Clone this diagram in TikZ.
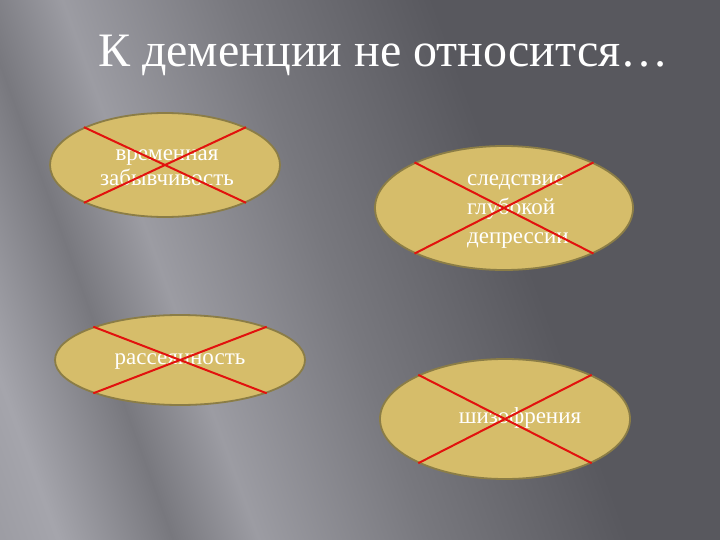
\documentclass[tikz,border=0pt]{standalone}
\usepackage{fontspec}
\setmainfont{Liberation Serif}
\usepackage{xcolor}
\usetikzlibrary{shapes.geometric,positioning}

\definecolor{slidedark}{RGB}{88,88,94}
\definecolor{slidemid}{RGB}{120,120,126}
\definecolor{slidelight}{RGB}{165,165,172}
\definecolor{ovalfill}{RGB}{214,189,106}
\definecolor{ovalline}{RGB}{139,125,70}
\definecolor{crossred}{RGB}{226,18,14}

\pgfdeclarehorizontalshading{slidebg}{100bp}{color(0bp)=(slidemid); color(22bp)=(slidelight); color(30bp)=(slidemid); color(36bp)=(slidelight!80!slidemid); color(48bp)=(slidemid); color(62bp)=(slidedark); color(100bp)=(slidedark)}

\tikzset{
  oval/.style={ellipse, draw=ovalline, line width=1.8pt, fill=ovalfill, inner sep=0pt},
  ovaltext/.style={text=white, font=\fontsize{23}{29}\selectfont, align=center, inner sep=0pt},
  crossline/.style={draw=crossred, line width=2pt},
}

\begin{document}
\begin{tikzpicture}[x=1pt,y=-1pt]
                        % Slide background
                        \shade[shading=slidebg, shading angle=20] (0,0) rectangle (720,540);%
                        \useasboundingbox (0,0) rectangle (720,540);%

                        % Title
                        \node[anchor=base west, text=white, font=\fontsize{48}{52}\selectfont, inner sep=0pt] (title) at (98,67) {К деменции не относится…};%

                        % Oval 1: временная забывчивость
                        \node[oval, minimum width=230pt, minimum height=104pt] (forget) at (165,165) {};%
                        \node[ovaltext, font=\fontsize{23}{25}\selectfont] (forgettext) at (167,168) {временная\\забывчивость};%
                        \draw[crossline] (forget.155) -- (forget.-25);%
                        \draw[crossline] (forget.25) -- (forget.205);%

                        % Oval 2: следствие глубокой депрессии
                        \node[oval, minimum width=258pt, minimum height=124pt] (depress) at (504,208) {};%
                        \node[ovaltext, align=left, anchor=west] (depresstext) at (467,212) {следствие\\глубокой\\депрессии};%
                        \draw[crossline] (depress.153) -- (depress.-27);%
                        \draw[crossline] (depress.27) -- (depress.207);%

                        % Oval 3: рассеянность
                        \node[oval, minimum width=250pt, minimum height=90pt] (scatter) at (180,360) {};%
                        \node[ovaltext] (scattertext) at (180,362) {рассеянность};%
                        \draw[crossline] (scatter.159) -- (scatter.-21);%
                        \draw[crossline] (scatter.21) -- (scatter.201);%

                        % Oval 4: шизофрения
                        \node[oval, minimum width=250pt, minimum height=120pt] (schizo) at (505,419) {};%
                        \node[ovaltext] (schizotext) at (520,418) {шизофрения};%
                        \draw[crossline] (schizo.153) -- (schizo.-27);%
                        \draw[crossline] (schizo.27) -- (schizo.207);%
                    \end{tikzpicture}
\end{document}
